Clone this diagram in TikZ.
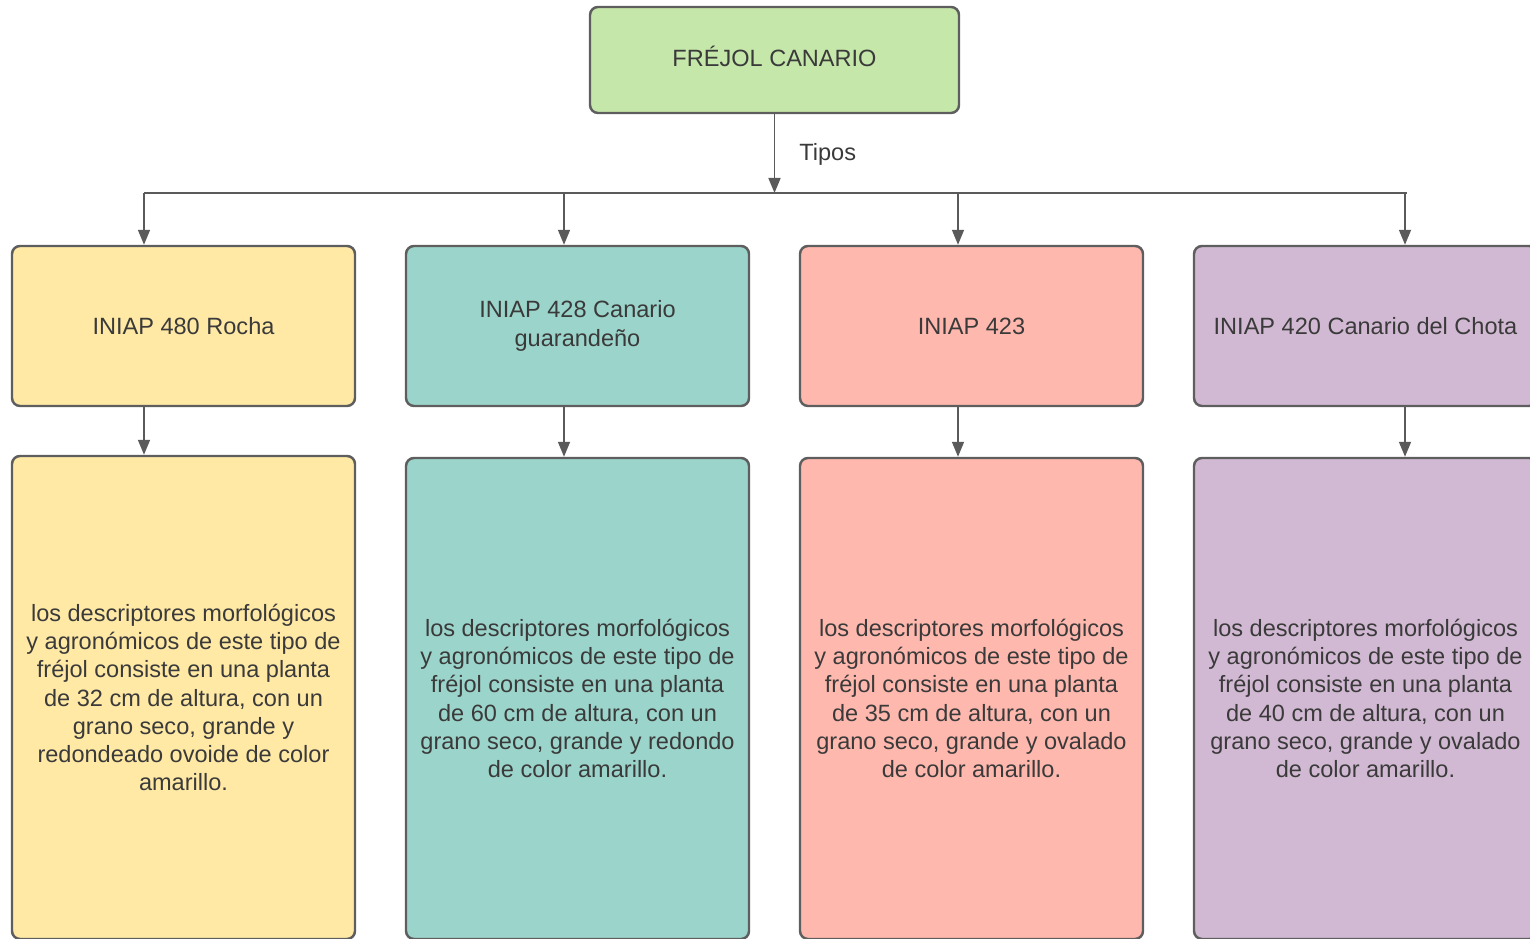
\documentclass[tikz,border=0pt]{standalone}
\usepackage{fontspec}
\setmainfont{Liberation Sans}
\usepackage{xcolor}
\usetikzlibrary{arrows.meta}
\definecolor{FCGreen}{HTML}{C5E7AA}
\definecolor{FCYellow}{HTML}{FFE9A5}
\definecolor{FCTeal}{HTML}{9BD4CA}
\definecolor{FCSalmon}{HTML}{FFB8AE}
\definecolor{FCLilac}{HTML}{D2B9D3}
\definecolor{FCBorder}{HTML}{5E5E5E}
\definecolor{FCText}{HTML}{3A3A3A}
\definecolor{FCLine}{HTML}{5A5A5A}

\begin{document}
\begin{tikzpicture}[x=1cm,y=1cm,
  fcbox/.style={draw=FCBorder,line width=1.4pt,rounded corners=0.16cm,align=center,
    text=FCText,font=\fontsize{13.4}{16.1}\selectfont,inner sep=0pt,minimum width=6.86cm},
  fclink/.style={draw=FCLine,line width=0.95pt,-{Triangle[length=0.3cm,width=0.24cm]}}]
\path[use as bounding box] (0,0) rectangle (30.60,18.76);
\clip (0,0) rectangle (30.60,18.76);
\node[fcbox,fill=FCGreen,minimum width=7.38cm,minimum height=2.12cm,text depth=0.16cm] (frejol) at (15.49,17.56) {FRÉJOL CANARIO};
\coordinate (busL) at (2.88,14.90);
\coordinate (busR) at (28.14,14.90);
\draw[FCLine,line width=1.6pt] (busL) -- (busR);
\draw[fclink] (frejol.south) -- (frejol.south |- busL);
\node[anchor=west,inner sep=0pt,text=FCText,font=\fontsize{13.4}{16.1}\selectfont] (tipos) at (15.98,15.68) {Tipos};
\node[fcbox,fill=FCYellow,minimum height=3.20cm] (t1) at (3.67,12.24) {INIAP 480 Rocha};
\node[fcbox,fill=FCTeal,minimum height=3.20cm] (t2) at (11.55,12.24) {INIAP 428 Canario\\guarandeño};
\node[fcbox,fill=FCSalmon,minimum height=3.20cm] (t3) at (19.43,12.24) {INIAP 423};
\node[fcbox,fill=FCLilac,minimum height=3.20cm] (t4) at (27.31,12.24) {INIAP 420 Canario del Chota};
\coordinate (d1) at (2.88,14.90);
\coordinate (d2) at (11.28,14.90);
\coordinate (d3) at (19.16,14.90);
\coordinate (d4) at (28.10,14.90);
\draw[fclink] (d1) -- (d1 |- t1.north);
\draw[fclink] (d2) -- (d2 |- t2.north);
\draw[fclink] (d3) -- (d3 |- t3.north);
\draw[fclink] (d4) -- (d4 |- t4.north);
\node[fcbox,fill=FCYellow,minimum height=9.66cm] (c1) at (3.67,4.81) {los descriptores morfológicos\\y agronómicos de este tipo de\\fréjol consiste en una planta\\de 32 cm de altura, con un\\grano seco, grande y\\redondeado ovoide de color\\amarillo.};
\node[fcbox,fill=FCTeal,minimum height=9.62cm] (c2) at (11.55,4.79) {los descriptores morfológicos\\y agronómicos de este tipo de\\fréjol consiste en una planta\\de 60 cm de altura, con un\\grano seco, grande y redondo\\de color amarillo.};
\node[fcbox,fill=FCSalmon,minimum height=9.62cm] (c3) at (19.43,4.79) {los descriptores morfológicos\\y agronómicos de este tipo de\\fréjol consiste en una planta\\de 35 cm de altura, con un\\grano seco, grande y ovalado\\de color amarillo.};
\node[fcbox,fill=FCLilac,minimum height=9.62cm] (c4) at (27.31,4.79) {los descriptores morfológicos\\y agronómicos de este tipo de\\fréjol consiste en una planta\\de 40 cm de altura, con un\\grano seco, grande y ovalado\\de color amarillo.};
\draw[fclink] (d1 |- t1.south) -- (d1 |- c1.north);
\draw[fclink] (d2 |- t2.south) -- (d2 |- c2.north);
\draw[fclink] (d3 |- t3.south) -- (d3 |- c3.north);
\draw[fclink] (d4 |- t4.south) -- (d4 |- c4.north);
\end{tikzpicture}
\end{document}
